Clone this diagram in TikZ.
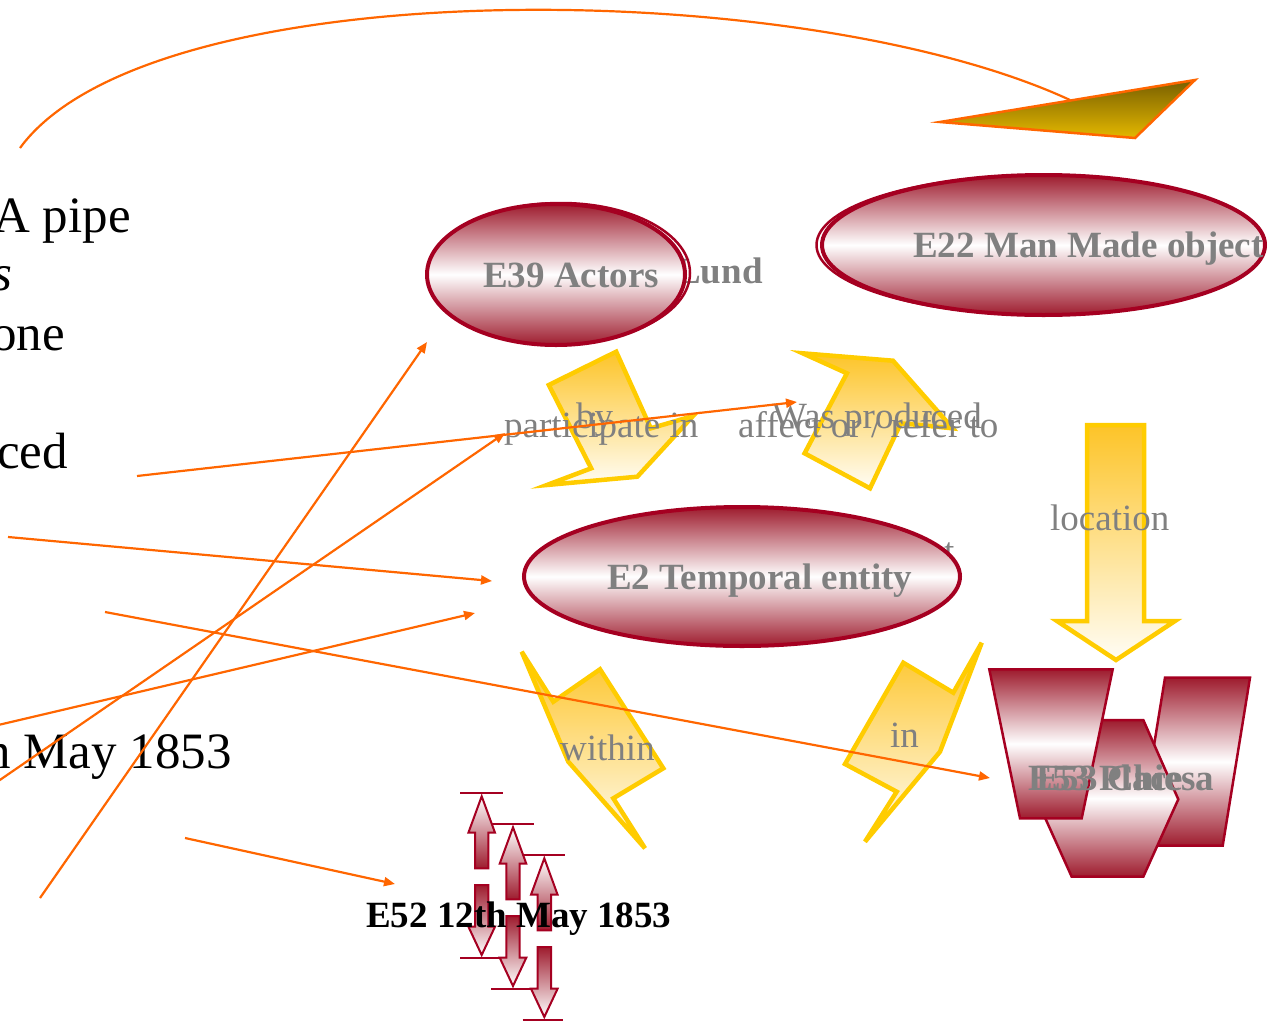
\documentclass[tikz,border=0pt]{standalone}
\usepackage{fontspec}
\setmainfont{Liberation Serif}
\usetikzlibrary{shapes.geometric,arrows.meta}
\definecolor{wine}{RGB}{158,28,46}
\definecolor{crimson}{RGB}{165,0,33}
\definecolor{linkorange}{RGB}{255,102,0}
\definecolor{amber}{RGB}{255,204,0}
\definecolor{amberfill}{RGB}{253,196,40}
\definecolor{cream}{RGB}{255,253,245}
\definecolor{olive}{RGB}{120,95,0}
\definecolor{mustard}{RGB}{228,184,0}
\definecolor{labelgray}{RGB}{128,128,128}

\begin{document}
\begin{tikzpicture}[x=1pt,y=-1pt,
  link/.style={linkorange,line width=2.2pt,-{Triangle[length=11pt,width=9pt]}},
  entity/.style={ellipse,draw=crimson,line width=4pt,top color=wine,bottom color=wine,middle color=white,inner sep=0pt},
  rim/.style={ellipse,draw=crimson,line width=2.5pt,inner sep=0pt},
  entitytext/.style={labelgray,font=\bfseries\fontsize{37}{44}\selectfont,inner sep=0pt,anchor=base west},
  proptext/.style={labelgray,font=\fontsize{37}{44}\selectfont,inner sep=0pt,anchor=base west},
  slidetext/.style={font=\fontsize{51}{60}\selectfont,inner sep=0pt,anchor=base east},
  bentarrow/.style={draw=amber,line width=4.5pt,top color=amberfill,bottom color=cream},
  placebox/.style={draw=crimson,line width=2.5pt,top color=wine,bottom color=wine,middle color=white},
  limit/.style={draw=crimson,line width=2pt}]
\useasboundingbox (0,0) rectangle (1278,1021);

% curve to the wedge
\coordinate (pipe) at (20,148);
\coordinate (wedge) at (1070,100);
\draw[linkorange,line width=2.2pt] (pipe) .. controls (150,-30) and (800,-25) .. (wedge);
\draw[draw=linkorange,line width=2.5pt,top color=olive,bottom color=mustard] (940,122)--(1195,80)--(1135,138)--cycle;

% slide text, cut by the left edge
\node[slidetext] (pipetext) at (131,232) {A pipe};
\node[slidetext] (stext) at (13,290) {\itshape s};
\node[slidetext] (onetext) at (65,350) {one};
\node[slidetext] (cedtext) at (68,468) {ced};
\node[slidetext] (maytext) at (232,768) {n May 1853};

% labels behind the ellipses
\node[entitytext] (lund) at (676,283) {Lund};
\node[proptext] (hiddent) at (944,563) {t};

% entities
\node[rim,minimum width=258pt,minimum height=140pt] (e39rim) at (561,273) {};
\node[entity,minimum width=258pt,minimum height=141pt] (e39) at (556,274.5) {};
\node[entitytext] (e39text) at (483,287) {E39 Actors};
\node[rim,minimum width=443pt,minimum height=139pt] (e22rim) at (1038,245) {};
\node[entity,minimum width=443pt,minimum height=140pt] (e22) at (1043.5,245) {};
\node[entitytext] (e22text) at (913,257) {E22 Man Made object};
\node[entity,minimum width=436pt,minimum height=139pt] (e2) at (742,576.5) {};
\node[entitytext] (e2text) at (607,589) {E2 Temporal entity};

% property arrows
\draw[bentarrow] (548.8,385)--(616.2,351.7)--(650.8,428.3)--(693,416)--(637.3,476.7)--(546.9,485)--(591.2,468.3)--cycle;
\draw[bentarrow] (802.7,353.3)--(846.9,373.3)--(804.6,453.3)--(870,488.3)--(900.8,423.3)--(952.7,428.3)--(893,360.7)--cycle;
\draw[bentarrow] (1087,425)--(1144,425)--(1144,621)--(1175,621)--(1116,660)--(1057,621)--(1087,621)--cycle;
\draw[bentarrow] (521.7,651.7)--(553.3,701.7)--(600,669.3)--(663.3,768.3)--(613.3,798.3)--(645,848.3)--(568.3,761.7)--cycle;
\draw[bentarrow] (981.7,642.7)--(940,751.7)--(865,841.7)--(896.7,791.7)--(845,764)--(903.3,662.7)--(953.3,692.7)--cycle;

% place
\draw[placebox] (1165,677.7)--(1250,677.7)--(1222.7,845.7)--(1137.7,845.7)--cycle;
\draw[placebox] (1101.7,720)--(1143.3,720)--(1178.3,799.3)--(1143.3,876.7)--(1071.7,876.7)--(1036.7,799.3)--cycle;
\draw[placebox] (989.3,669.3)--(1112.7,669.3)--(1081.7,818.3)--(1020,818.3)--cycle;

% limits of the date
\foreach \i in {0,1,2}{
 \begin{scope}[shift={(481.7+31.3*\i,793.3+31*\i)}]
  \draw[limit] (-21.7,0)--(21,0);
  \draw[limit,top color=white,bottom color=wine] (0,3)--(13.3,39.4)--(6.7,39.4)--(6.7,75)--(-6.7,75)--(-6.7,39.4)--(-13.3,39.4)--cycle;
  \draw[limit,top color=wine,bottom color=white] (-6.7,91.7)--(6.7,91.7)--(6.7,133.4)--(13.3,133.4)--(0,161.7)--(-13.3,133.4)--(-6.7,133.4)--cycle;
  \draw[limit] (-21.7,164.4)--(19,164.4);
 \end{scope}}

% labels
\node[proptext] (partic) at (504,437) {participate in};
\node[proptext] (by) at (576,428) {by};
\node[proptext] (affect) at (738,437) {affect or / refer to};
\node[proptext] (produced) at (772,428) {Was produced};
\node[proptext] (location) at (1050,530) {location};
\node[proptext] (within) at (560,760) {within};
\node[proptext] (inlabel) at (890,747) {in};
\node[entitytext] (placetext) at (1028,790) {E53 Place};
\node[entitytext] (chiesa) at (1036,790) {E53 Chiesa};
\node[entitytext,black] (e52) at (366,927) {E52 12th May 1853};

% links
\coordinate (fromced) at (137,476);
\coordinate (toproduced) at (797,402);
\coordinate (fromleft) at (-6,784);
\coordinate (toby) at (505,433);
\coordinate (frommay) at (-6,726);
\coordinate (totemporal) at (475,613);
\coordinate (fromlow) at (40,898);
\coordinate (toactors) at (427,342);
\coordinate (frommid) at (8,537);
\coordinate (toentity) at (492,581);
\coordinate (fromsix) at (105,612);
\coordinate (toplace) at (990,778);
\coordinate (fromdate) at (185,838);
\coordinate (todate) at (395,884);
\draw[link] (fromced)--(toproduced);
\draw[link] (fromleft)--(toby);
\draw[link] (frommay)--(totemporal);
\draw[link] (fromlow)--(toactors);
\draw[link] (frommid)--(toentity);
\draw[link] (fromsix)--(toplace);
\draw[link] (fromdate)--(todate);
\end{tikzpicture}
\end{document}
